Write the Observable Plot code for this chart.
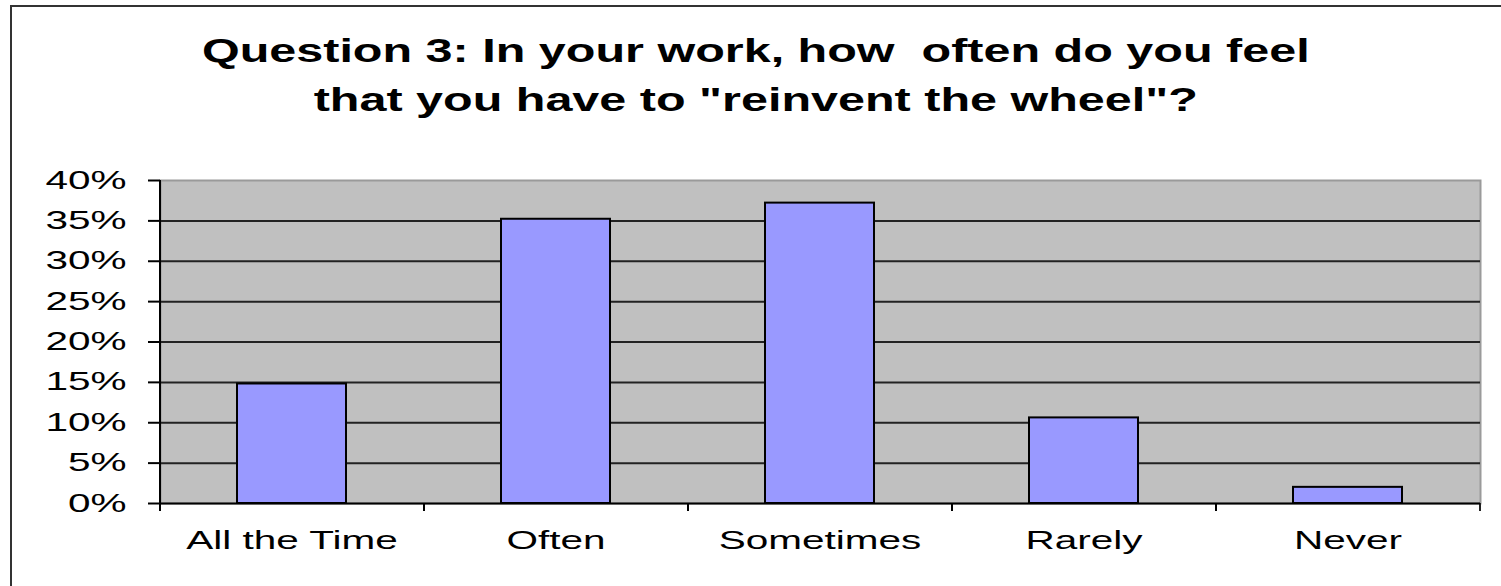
<!DOCTYPE html>
<html>
<head>
<meta charset="utf-8">
<script src="https://cdn.jsdelivr.net/npm/d3@7"></script>
<script src="https://cdn.jsdelivr.net/npm/@observablehq/plot@0.6"></script>
<style>
  html, body { margin: 0; padding: 0; background: #fff; overflow: hidden; }
  #wrap { position: relative; width: 1501px; height: 586px; overflow: hidden; font-family: "Liberation Sans", Arial, sans-serif; }
  #border { position: absolute; left: 10px; top: 5px; width: 1600px; height: 700px; border: 2px solid #333; box-sizing: border-box; }
  #title { position: absolute; left: 0; top: 26px; width: 1512px; text-align: center; font-weight: bold; font-size: 33px; line-height: 49px; color: #000; }
  #title span { display: inline-block; transform: scaleX(1.47); white-space: pre; }
  #chart { position: absolute; left: 0; top: 150px; }
</style>
</head>
<body>
<div id="wrap">
  <div id="border"></div>
  <div id="title"><span>Question 3: In your work, how  often do you feel</span><br><span>that you have to "reinvent the wheel"?</span></div>
  <div id="chart"></div>
</div>
<script>
const categories = ["All the Time", "Often", "Sometimes", "Rarely", "Never"];
const values = [0.148, 0.352, 0.372, 0.106, 0.02];
const yTicks = [0, 0.05, 0.10, 0.15, 0.20, 0.25, 0.30, 0.35, 0.40];

const data = categories.map((c, i) => ({category: c, value: values[i]}));
const width = 1501, marginLeft = 160, marginRight = 21;
const step = (width - marginLeft - marginRight) / categories.length;
const gridTicks = yTicks.filter(t => t > 0 && t < 0.4);

const chart = Plot.plot({
  width,
  height: 436,
  marginTop: 30,
  marginBottom: 83,
  marginLeft,
  marginRight,
  style: {fontFamily: "'Liberation Sans', Arial, sans-serif", color: "#000", background: "transparent"},
  x: {domain: categories, paddingInner: 0.587, paddingOuter: 0.2935, align: 0.5, label: null},
  y: {domain: [0, 0.4], label: null},
  marks: [
    Plot.frame({fill: "#c0c0c0", stroke: "#9a9a9a", strokeWidth: 2}),
    Plot.ruleY(gridTicks, {stroke: "#222", strokeWidth: 2}),
    Plot.barY(data, {x: "category", y: "value", fill: "#9999ff", stroke: "#000", strokeWidth: 2}),
    Plot.ruleX(categories, {x: d => d, dx: -step / 2, y1: 0.4, y2: -0.01, stroke: "#000", strokeWidth: 2, filter: (d, i) => i === 0}),
    Plot.ruleX(categories, {x: d => d, dx: -step / 2, y1: 0, y2: -0.01, stroke: "#000", strokeWidth: 2}),
    Plot.ruleX(categories.slice(-1), {x: d => d, dx: step / 2, y1: 0, y2: -0.01, stroke: "#222", strokeWidth: 2}),
    Plot.ruleY([0], {stroke: "#000", strokeWidth: 2}),
    Plot.axisY({ticks: yTicks, tickFormat: d3.format(".0%"), tickSize: 12, tickPadding: 22, fontSize: 25, stroke: "#000", strokeWidth: 2, label: null}),
    Plot.axisX({tickSize: 0, tickPadding: 28, fontSize: 25, label: null})
  ]
});

document.getElementById("chart").appendChild(chart);

// widen tick labels horizontally like the reference rendering
const k = 1.62;
chart.querySelectorAll('g[aria-label="x-axis tick label"] text, g[aria-label="y-axis tick label"] text').forEach(t => {
  const len = t.getComputedTextLength();
  t.setAttribute("textLength", len * k);
  t.setAttribute("lengthAdjust", "spacingAndGlyphs");
});
</script>
</body>
</html>
